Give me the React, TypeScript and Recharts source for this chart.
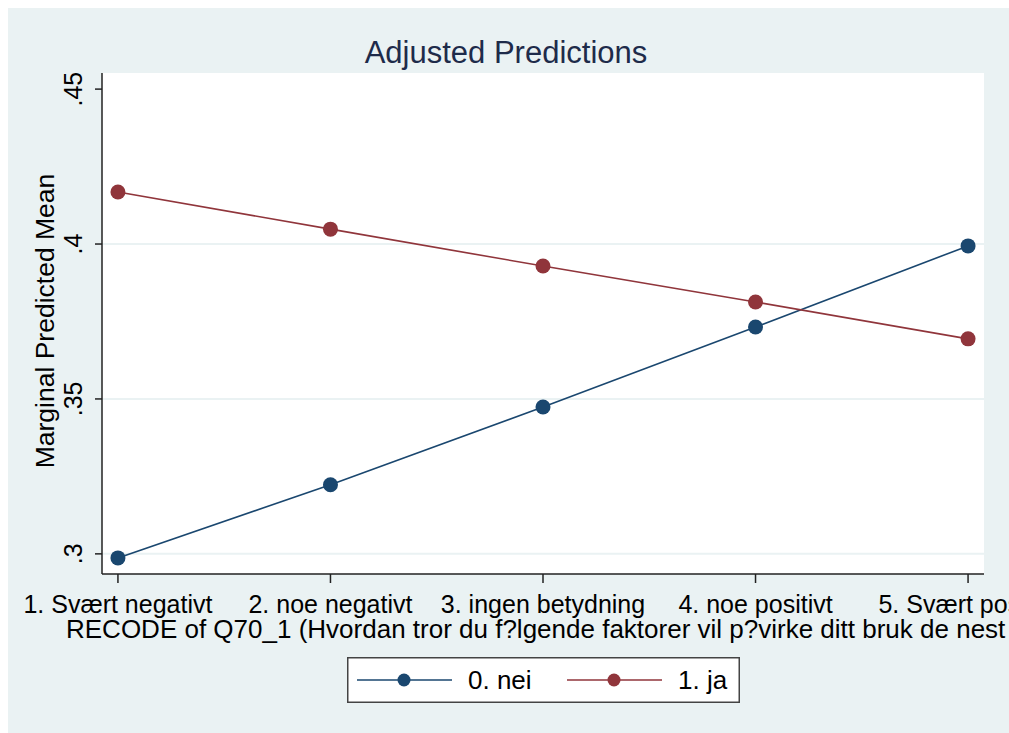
import { LineChart, Line, XAxis, YAxis, CartesianGrid, ReferenceLine, Label } from "recharts"

const categories = [
  "1. Svært negativt",
  "2. noe negativt",
  "3. ingen betydning",
  "4. noe positivt",
  "5. Svært positivt",
]
const neiValues = [0.2987, 0.3223, 0.3474, 0.3732, 0.3994]
const jaValues = [0.4168, 0.4048, 0.3929, 0.3813, 0.3694]
const yTicks = [0.3, 0.35, 0.4, 0.45]
const gridValues = [0.3, 0.35, 0.4]
const seriesNames = ["0. nei", "1. ja"]

const BLUE = "#1a476f"
const RED = "#90353b"
const BG = "#eaf2f3"
const FONT = "'Liberation Sans', Arial, sans-serif"
const X_TITLE = "RECODE of Q70_1 (Hvordan tror du f?lgende faktorer vil p?virke ditt bruk de nest"

const data = categories.map((name, i) => ({
  x: i + 1,
  name,
  nei: neiValues[i],
  ja: jaValues[i],
}))

function fmtY(v: number) {
  return String(v).replace(/^0/, "")
}

function YTick({ x, y, payload }: any) {
  return (
    <text
      transform={`translate(${x - 11},${y}) rotate(-90)`}
      textAnchor="middle"
      fontSize={25}
      fontFamily={FONT}
      fill="#000"
    >
      {fmtY(payload.value)}
    </text>
  )
}

function LegendBox() {
  const item = (color: string, x: number, label: string) => (
    <g key={label}>
      <line x1={x} y1={23} x2={x + 95} y2={23} stroke={color} strokeWidth={1.6} />
      <circle cx={x + 47} cy={23} r={6.5} fill={color} />
      <text x={x + 111} y={32} fontSize={26} fontFamily={FONT} fill="#000">
        {label}
      </text>
    </g>
  )
  return (
    <svg
      width={393}
      height={46}
      style={{ position: "absolute", left: 347, top: 657 }}
    >
      <rect x={0.75} y={0.75} width={391.5} height={44.5} fill="#fff" stroke="#444" strokeWidth={1.5} />
      {item(BLUE, 10, seriesNames[0])}
      {item(RED, 220, seriesNames[1])}
    </svg>
  )
}

export default function App() {
  return (
    <div style={{ position: "relative", width: 1009, height: 733, background: "#fff", overflow: "hidden" }}>
      <style>{"body{margin:0;overflow:hidden}"}</style>
      <div style={{ position: "absolute", left: 8, top: 8, width: 1001, height: 725, background: BG }}>
        <LineChart
          width={1001}
          height={725}
          data={data}
          margin={{ top: 65, right: 25, bottom: 60, left: 14 }}
        >
          <CartesianGrid fill="#fff" stroke="none" horizontal={false} vertical={false} />
          {gridValues.map((v) => (
            <ReferenceLine key={v} y={v} stroke={BG} strokeWidth={2} />
          ))}
          <XAxis
            dataKey="x"
            type="number"
            domain={[0.925, 5.075]}
            ticks={[1, 2, 3, 4, 5]}
            tickFormatter={(v: number) => categories[v - 1]}
            interval={0}
            height={99}
            tickSize={9}
            tickMargin={12}
            axisLine={{ stroke: "#222", strokeWidth: 1.5 }}
            tickLine={{ stroke: "#222", strokeWidth: 1.5 }}
            tick={{ fontSize: 25, fill: "#000", fontFamily: FONT }}
            allowDataOverflow
          >
            <Label
              content={() => (
                <text x={58} y={630} fontSize={26} fill="#000" fontFamily={FONT}>
                  {X_TITLE}
                </text>
              )}
            />
          </XAxis>
          <YAxis
            type="number"
            domain={[0.2935, 0.4552]}
            ticks={yTicks}
            tick={<YTick />}
            width={80}
            tickSize={7}
            axisLine={{ stroke: "#222", strokeWidth: 1.5 }}
            tickLine={{ stroke: "#222", strokeWidth: 1.5 }}
            allowDataOverflow
          >
            <Label
              content={() => (
                <text
                  transform="translate(46,313) rotate(-90)"
                  textAnchor="middle"
                  fontSize={26.5}
                  fill="#000"
                  fontFamily={FONT}
                >
                  Marginal Predicted Mean
                </text>
              )}
            />
          </YAxis>
          <Line
            dataKey="nei"
            name={seriesNames[0]}
            stroke={BLUE}
            strokeWidth={1.6}
            dot={{ r: 7.5, fill: BLUE, stroke: BLUE, strokeWidth: 0 }}
            activeDot={false}
            isAnimationActive={false}
          />
          <Line
            dataKey="ja"
            name={seriesNames[1]}
            stroke={RED}
            strokeWidth={1.6}
            dot={{ r: 7.5, fill: RED, stroke: RED, strokeWidth: 0 }}
            activeDot={false}
            isAnimationActive={false}
          />
        </LineChart>
      </div>
      <svg width={1009} height={80} style={{ position: "absolute", left: 0, top: 0 }}>
        <text x={506} y={63} textAnchor="middle" fontSize={31} fontFamily={FONT} fill="#1e2b4a">
          Adjusted Predictions
        </text>
      </svg>
      <LegendBox />
    </div>
  )
}
